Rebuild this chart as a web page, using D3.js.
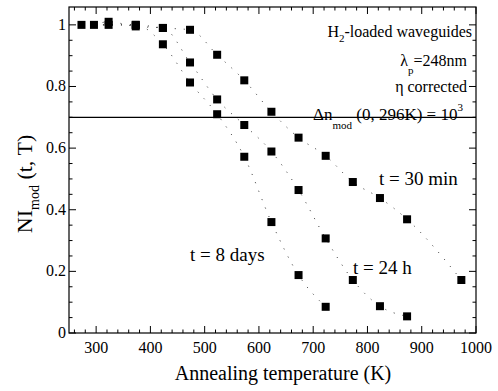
<!DOCTYPE html>
<html>
<head>
<meta charset="utf-8">
<script src="https://cdn.jsdelivr.net/npm/d3@7"></script>
<style>
  html, body { margin: 0; padding: 0; background: #fff; }
  svg { display: block; }
</style>
</head>
<body>
<svg id="chart" width="498" height="391"></svg>
<script>
// Annealing temperatures (K) and normalised index modulation per anneal time
const tempsRef = [273, 296];
const nimRef   = [1.0, 1.0];

const temps30min = [323, 373, 423, 473, 523, 573, 623, 673, 723, 773, 823, 873, 973];
const nim30min   = [1.0, 1.0, 0.99, 0.984, 0.903, 0.82, 0.718, 0.634, 0.575, 0.49, 0.438, 0.369, 0.172];

const temps24h = [323, 373, 423, 473, 523, 573, 623, 673, 723, 773, 823, 873];
const nim24h   = [1.01, 0.995, 0.99, 0.878, 0.758, 0.675, 0.589, 0.464, 0.307, 0.172, 0.087, 0.054];

const temps8d = [373, 423, 473, 523, 573, 623, 673, 723];
const nim8d   = [1.0, 0.937, 0.813, 0.71, 0.572, 0.36, 0.188, 0.085];

const xTicks = [300, 400, 500, 600, 700, 800, 900, 1000];
const yTicks = [0, 0.2, 0.4, 0.6, 0.8, 1];
const refLevel = 0.7;

const FONT = "'Liberation Serif', 'Times New Roman', Times, 'DejaVu Serif', serif";
const svg = d3.select("#chart").attr("font-family", FONT);
const pl = 69, pr = 476, pt = 7, pb = 333;

const x = d3.scaleLinear().domain([250, 1000]).range([pl, pr]);
const y = d3.scaleLinear().domain([0, 1.058]).range([pb, pt]);

const zip = (t, v) => t.map((d, i) => ({ t: d, v: v[i] }));
const series = [
  zip(temps30min, nim30min),
  zip(temps24h, nim24h),
  zip(temps8d, nim8d)
];

// frame
svg.append("rect")
  .attr("x", pl).attr("y", pt)
  .attr("width", pr - pl).attr("height", pb - pt)
  .attr("fill", "none").attr("stroke", "#000").attr("stroke-width", 1.2);

// ticks pointing inward on all four sides
const xMinor = d3.range(260, 1000, 20).filter(v => v % 100 !== 0);
const yMinor = d3.range(0.05, 1.05, 0.05).map(v => +v.toFixed(2)).filter(v => Math.round(v * 100) % 20 !== 0);

function drawAxes() {
  const g = svg.append("g").attr("stroke", "#000").attr("stroke-width", 1);
  const maj = 7, min = 3.5;
  xTicks.forEach(t => {
    g.append("line").attr("x1", x(t)).attr("x2", x(t)).attr("y1", pb).attr("y2", pb - maj);
    g.append("line").attr("x1", x(t)).attr("x2", x(t)).attr("y1", pt).attr("y2", pt + maj);
  });
  xMinor.forEach(t => {
    g.append("line").attr("x1", x(t)).attr("x2", x(t)).attr("y1", pb).attr("y2", pb - min);
    g.append("line").attr("x1", x(t)).attr("x2", x(t)).attr("y1", pt).attr("y2", pt + min);
  });
  yTicks.forEach(v => {
    g.append("line").attr("x1", pl).attr("x2", pl + maj).attr("y1", y(v)).attr("y2", y(v));
    g.append("line").attr("x1", pr).attr("x2", pr - maj).attr("y1", y(v)).attr("y2", y(v));
  });
  yMinor.forEach(v => {
    g.append("line").attr("x1", pl).attr("x2", pl + min).attr("y1", y(v)).attr("y2", y(v));
    g.append("line").attr("x1", pr).attr("x2", pr - min).attr("y1", y(v)).attr("y2", y(v));
  });

  svg.append("g").selectAll("text").data(xTicks).join("text")
    .attr("x", d => x(d)).attr("y", 353)
    .attr("text-anchor", "middle").attr("font-size", 16)
    .text(d => d);
  svg.append("g").selectAll("text").data(yTicks).join("text")
    .attr("x", 66).attr("y", d => y(d) + 5)
    .attr("text-anchor", "end").attr("font-size", 16)
    .text(d => d === 0 || d === 1 ? d : d.toFixed(1));
}
drawAxes();

// reference level line
svg.append("line")
  .attr("x1", pl).attr("x2", pr)
  .attr("y1", y(refLevel)).attr("y2", y(refLevel))
  .attr("stroke", "#000").attr("stroke-width", 1.2);

// dotted fit curves
const line = d3.line().x(d => x(d.t)).y(d => y(d.v)).curve(d3.curveMonotoneX);
const start = zip(tempsRef, nimRef).slice(1);
svg.append("g").selectAll("path").data(series).join("path")
  .attr("d", s => line(start.concat(s)))
  .attr("fill", "none").attr("stroke", "#333").attr("stroke-width", 1)
  .attr("stroke-dasharray", "1 8");

// markers
const sq = 8;
const allPts = zip(tempsRef, nimRef).concat(...series);
svg.append("g").selectAll("rect").data(allPts).join("rect")
  .attr("x", d => x(d.t) - sq / 2).attr("y", d => y(d.v) - sq / 2)
  .attr("width", sq).attr("height", sq).attr("fill", "#000");

// annotations
function label(xp, yp, size, anchor) {
  return svg.append("text").attr("x", xp).attr("y", yp)
    .attr("font-size", size).attr("text-anchor", anchor).attr("fill", "#000");
}
let t = label(472, 37, 16, "end");
t.append("tspan").text("H");
t.append("tspan").attr("font-size", 11).attr("dy", 5).text("2");
t.append("tspan").attr("dy", -5).text("-loaded waveguides");

t = label(467, 66, 16, "end");
t.append("tspan").text("λ");
t.append("tspan").attr("font-size", 11).attr("dy", 8).text("p");
t.append("tspan").attr("dy", -8).text("=248nm");

t = label(467, 92, 16, "end");
t.text("η corrected");

t = label(313, 120, 17, "start");
t.append("tspan").text("Δn");
t.append("tspan").attr("font-size", 11).attr("dy", 9).text("mod");
t.append("tspan").attr("dy", -9).text(" (0, 296K) = 10");
t.append("tspan").attr("font-size", 11).attr("dy", -9).text("3");

label(379, 185, 19, "start").text("t = 30 min");
label(353, 274, 19, "start").text("t = 24 h");
label(190, 261, 19, "start").text("t = 8 days");

// axis titles
label(283, 380, 20, "middle").text("Annealing temperature (K)");

t = svg.append("text").attr("transform", "translate(32,184) rotate(-90)")
  .attr("text-anchor", "middle").attr("font-size", 22).attr("fill", "#000");
t.append("tspan").text("NI");
t.append("tspan").attr("font-size", 14).attr("dy", 7).text("mod");
t.append("tspan").attr("dy", -7).text(" (t, T)");
</script>
</body>
</html>
